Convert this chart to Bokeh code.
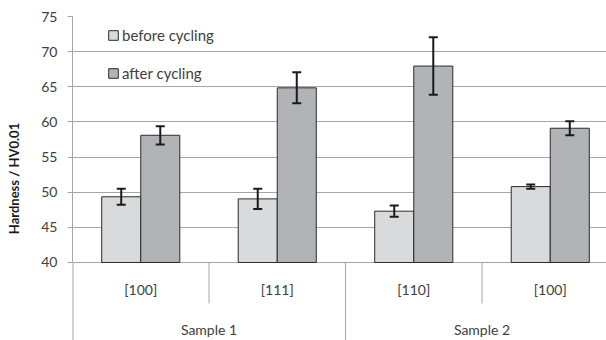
from bokeh.plotting import figure
from bokeh.models import Range1d, ColumnDataSource, Whisker, TeeHead, FixedTicker, Legend, LegendItem
from bokeh.core.properties import value
from bokeh.embed import file_html
from bokeh.resources import INLINE

# ---- data ----
orientations = ["[100]", "[111]", "[110]", "[100]"]
samples = ["Sample 1", "Sample 1", "Sample 2", "Sample 2"]
before = [49.35, 49.05, 47.3, 50.8]
before_err = [1.15, 1.45, 0.8, 0.3]
after = [58.1, 64.85, 67.95, 59.1]
after_err = [1.3, 2.2, 4.1, 1.0]
y_ticks = [40, 45, 50, 55, 60, 65, 70, 75]
y_title = "Hardness / HV0.01"

FONT = "Lato"
TXT = "#404040"
LIGHT = "#d9dadc"
DARK = "#b2b3b6"
GRID = "#a6a6a6"

bw = 0.286
centers = [i + 0.5 for i in range(len(orientations))]
Y_BOTTOM = 28.9

p = figure(width=606, height=340, output_backend="svg", toolbar_location=None,
           x_range=Range1d(0, 3.912), y_range=Range1d(Y_BOTTOM, 75),
           min_border_left=72, min_border_top=16, min_border_bottom=0, min_border_right=0)
p.outline_line_color = None
p.background_fill_color = "white"

src_b = ColumnDataSource(dict(x=[c - bw / 2 for c in centers], top=before,
                              up=[v + e for v, e in zip(before, before_err)],
                              lo=[v - e for v, e in zip(before, before_err)]))
src_a = ColumnDataSource(dict(x=[c + bw / 2 for c in centers], top=after,
                              up=[v + e for v, e in zip(after, after_err)],
                              lo=[v - e for v, e in zip(after, after_err)]))

rb = p.vbar(x="x", top="top", bottom=y_ticks[0], width=bw, source=src_b,
            fill_color=LIGHT, line_color="#2b2b2b", line_width=1)
ra = p.vbar(x="x", top="top", bottom=y_ticks[0], width=bw, source=src_a,
            fill_color=DARK, line_color="#2b2b2b", line_width=1)

for s in (src_b, src_a):
    w = Whisker(base="x", upper="up", lower="lo", source=s, level="overlay",
                line_color="#1a1a1a", line_width=2,
                upper_head=TeeHead(size=9, line_color="#1a1a1a", line_width=2),
                lower_head=TeeHead(size=9, line_color="#1a1a1a", line_width=2))
    p.add_layout(w)

# category separators and labels (below the 40 baseline, inside data space)
sep_x_short = [i for i in range(1, len(orientations)) if samples[i] == samples[i - 1]]
sep_x_long = [i for i in range(1, len(orientations)) if samples[i] != samples[i - 1]]
p.segment(x0=sep_x_short, x1=sep_x_short, y0=[y_ticks[0]] * len(sep_x_short),
          y1=[34.17] * len(sep_x_short), line_color=GRID, line_width=1)
p.segment(x0=sep_x_long, x1=sep_x_long, y0=[y_ticks[0]] * len(sep_x_long),
          y1=[Y_BOTTOM] * len(sep_x_long), line_color=GRID, line_width=1)
# continuation of the value axis line through the category area
p.segment(x0=[0], x1=[0], y0=[y_ticks[0]], y1=[Y_BOTTOM], line_color=GRID, line_width=2)

p.text(x=centers, y=[36.16] * len(centers), text=orientations, text_align="center",
       text_baseline="middle", text_font=value(FONT), text_font_size="14px", text_color=TXT)

uniq = []
for s in samples:
    if s not in uniq:
        uniq.append(s)
sx = [sum(centers[i] for i in range(len(samples)) if samples[i] == s) /
      samples.count(s) for s in uniq]
p.text(x=sx, y=[30.4] * len(uniq), text=uniq, text_align="center",
       text_baseline="middle", text_font=value(FONT), text_font_size="14px", text_color=TXT)

# axes
p.xaxis.visible = False
p.xgrid.visible = False
p.yaxis.bounds = (y_ticks[0], y_ticks[-1])
p.yaxis.ticker = FixedTicker(ticks=y_ticks)
p.ygrid.ticker = FixedTicker(ticks=y_ticks)
p.ygrid.grid_line_color = GRID
p.ygrid.grid_line_width = 1
p.yaxis.axis_line_color = GRID
p.yaxis.major_tick_line_color = GRID
p.yaxis.major_tick_out = 5
p.yaxis.major_tick_in = 0
p.yaxis.minor_tick_line_color = None
p.yaxis.major_label_standoff = 10
p.yaxis.major_label_text_font = FONT
p.yaxis.major_label_text_font_size = "14px"
p.yaxis.major_label_text_color = TXT
p.yaxis.axis_label = y_title
p.yaxis.axis_label_text_font = FONT
p.yaxis.axis_label_text_font_size = "13px"
p.yaxis.axis_label_text_font_style = "bold"
p.yaxis.axis_label_text_color = "#1a1a1a"
p.yaxis.axis_label_standoff = 16

legend = Legend(items=[LegendItem(label="before cycling", renderers=[rb]),
                       LegendItem(label="after cycling", renderers=[ra])],
                location=(35, 258), padding=0, margin=0, spacing=20,
                glyph_width=12, glyph_height=12, label_height=12, label_standoff=3,
                label_text_font=FONT, label_text_font_size="15px", label_text_color=TXT,
                border_line_color=None, background_fill_alpha=0)
p.add_layout(legend)

open("out.html", "w").write(file_html(p, INLINE))
